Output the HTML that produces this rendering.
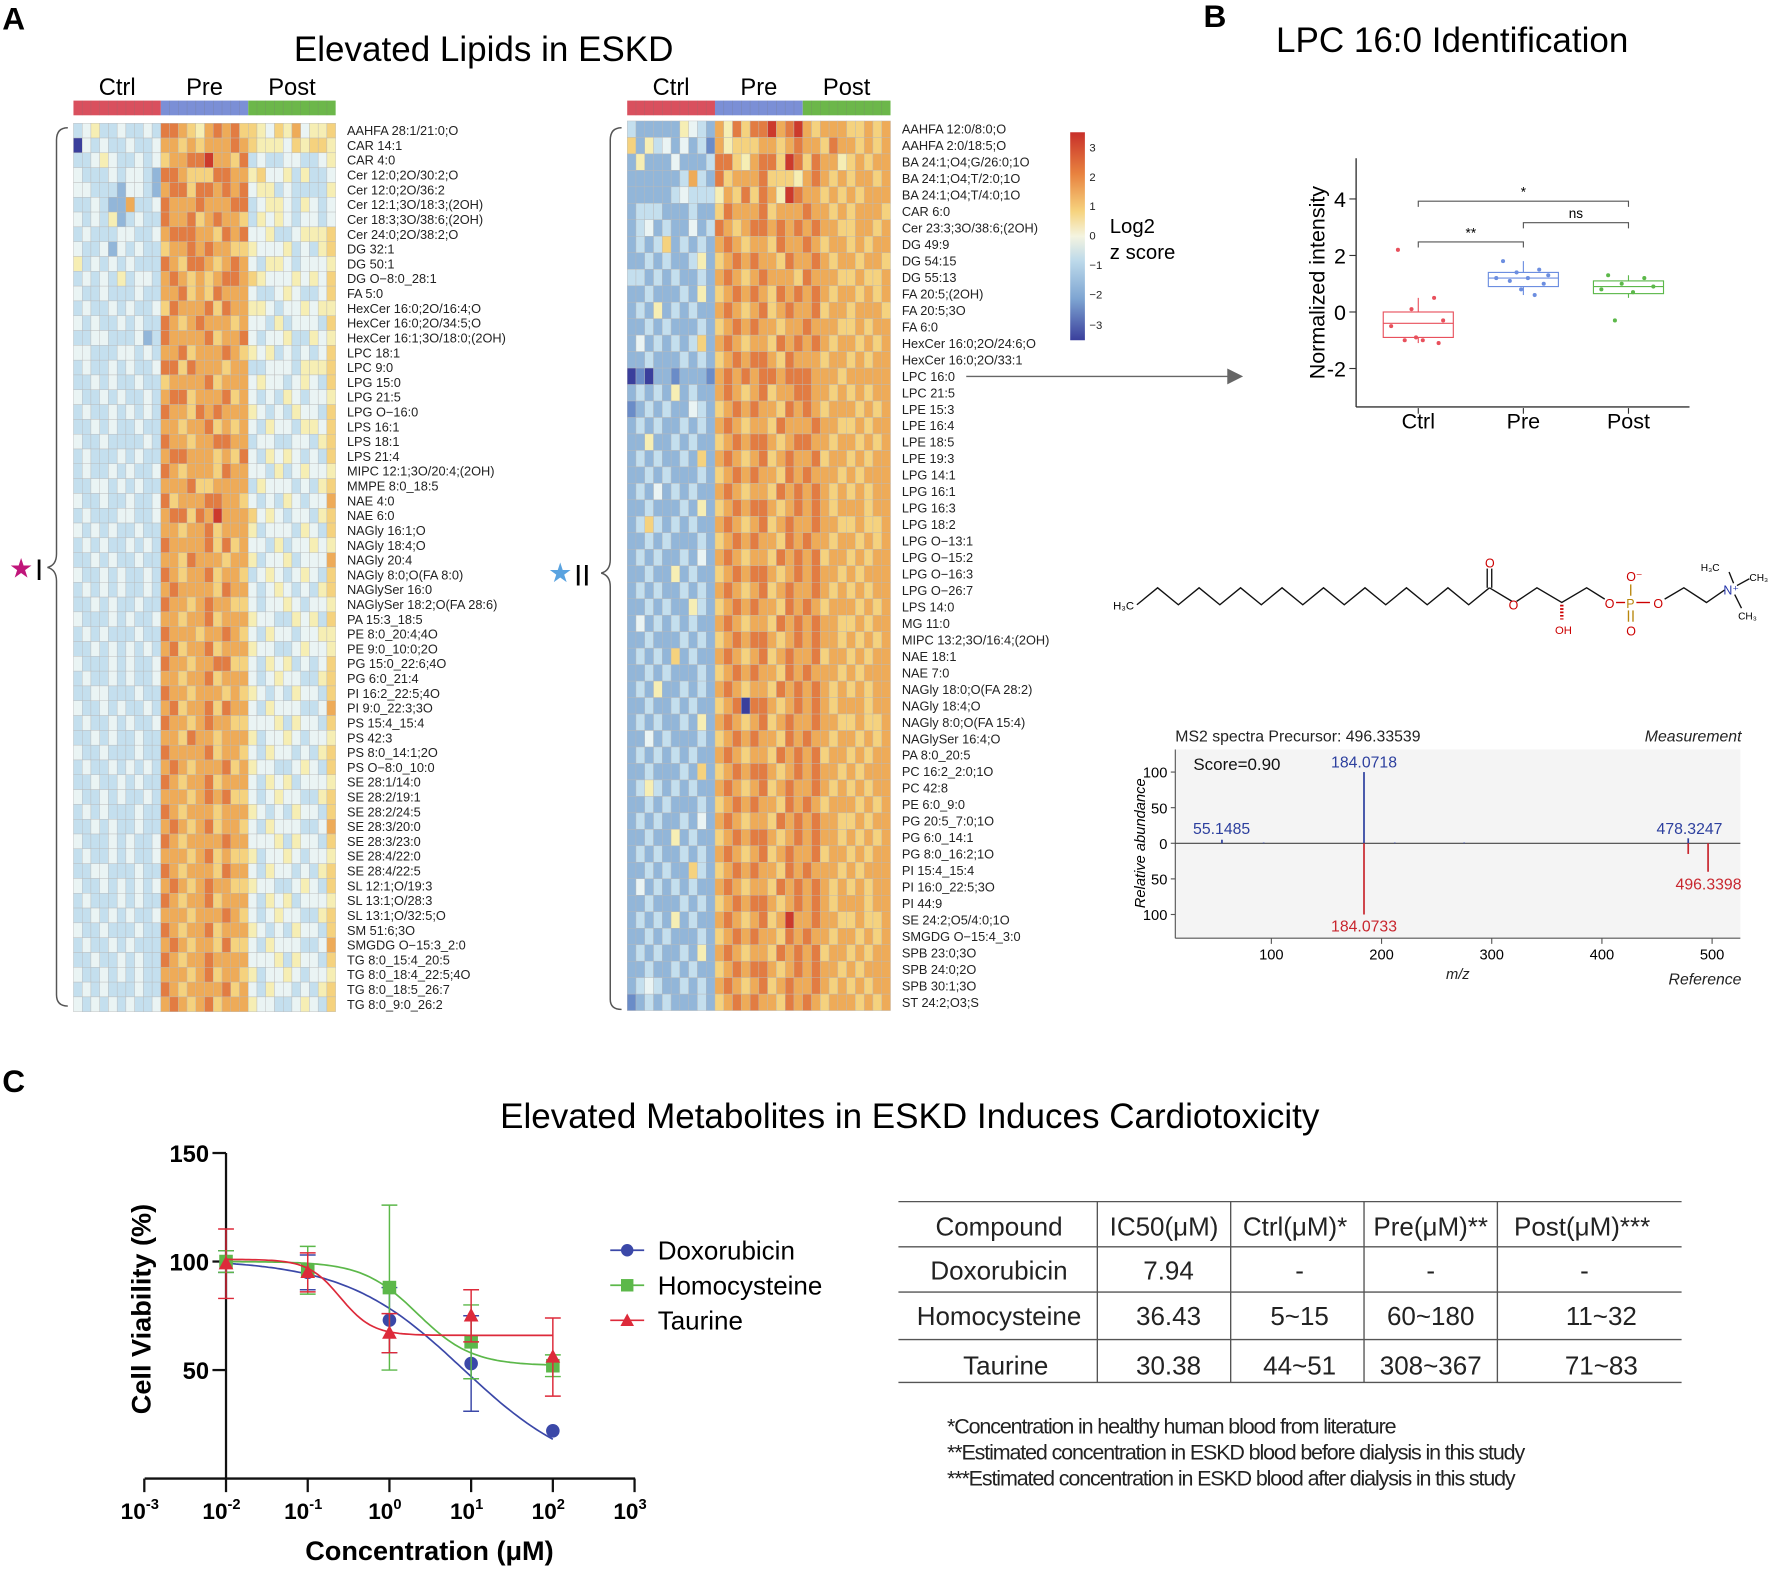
<!DOCTYPE html>
<html><head><meta charset="utf-8"><style>
html,body{margin:0;padding:0;background:#fff}
svg{display:block}
text{font-family:"Liberation Sans",sans-serif}
</style></head><body>
<svg id="fig" width="1772" height="1569" viewBox="0 0 1568 1388" preserveAspectRatio="none" xmlns="http://www.w3.org/2000/svg">
<rect width="1568" height="1388" fill="#fff"/>
<g id="static">
<text x="2" y="26" font-size="28" font-weight="bold">A</text>
<text x="1065" y="24" font-size="28" font-weight="bold">B</text>
<text x="2" y="966" font-size="28" font-weight="bold">C</text>
<text x="428" y="54" font-size="31" text-anchor="middle">Elevated Lipids in ESKD</text>
<text x="1285" y="46" font-size="31" text-anchor="middle">LPC 16:0 Identification</text>
<text x="805" y="998" font-size="31" text-anchor="middle">Elevated Metabolites in ESKD Induces Cardiotoxicity</text>
<path d="M60,113 Q50,113 50,124 L50,490 Q50,500 42,502 Q50,504 50,514 L50,880 Q50,890 60,890" fill="none" stroke="#555" stroke-width="1.3"/>
<path d="M550,113 Q540,113 540,124 L540,495 Q540,505 532,507 Q540,509 540,519 L540,884 Q540,893 550,893" fill="none" stroke="#555" stroke-width="1.3"/>
<text x="8" y="511" font-size="24" fill="#c0157a">★</text>
<text x="31" y="513" font-size="26">I</text>
<text x="485" y="515" font-size="24" fill="#5aa3e0">★</text>
<text x="508" y="518" font-size="26">II</text>
<line x1="855" y1="333" x2="1090" y2="333" stroke="#666" stroke-width="1.3"/>
<polygon points="1100,333 1086,326 1086,340" fill="#666"/>
<defs><linearGradient id="cg" x1="0" y1="0" x2="0" y2="1">
<stop offset="0" stop-color="#c8302a"/><stop offset="0.2" stop-color="#e8823f"/><stop offset="0.38" stop-color="#f6d37e"/><stop offset="0.5" stop-color="#f4f4e0"/><stop offset="0.62" stop-color="#bcd9ea"/><stop offset="0.8" stop-color="#7ea5d2"/><stop offset="1" stop-color="#3a3f9c"/></linearGradient></defs>
<rect x="947" y="117" width="13" height="184" fill="url(#cg)"/>
<g font-size="10" fill="#222">
<text x="964" y="134">3</text><text x="964" y="160">2</text><text x="964" y="186">1</text><text x="964" y="212">0</text><text x="964" y="238">−1</text><text x="964" y="264">−2</text><text x="964" y="291">−3</text></g>
<text x="982" y="206" font-size="18">Log2</text>
<text x="982" y="229" font-size="18">z score</text>
<g stroke-width="1.2" fill="none">
<polyline id="chain" stroke="#111"/>
<polyline points="1318,520 1338,532" stroke="#111"/>
<line x1="1316" y1="520" x2="1316" y2="503" stroke="#111"/><line x1="1320" y1="520" x2="1320" y2="503" stroke="#111"/>
<polyline points="1342,532 1360,520 1382,533 1404,520 1420,530" stroke="#111"/>
<line x1="1382" y1="535" x2="1382" y2="548" stroke="#c00" stroke-dasharray="1.5,1.5" stroke-width="3"/>
<line x1="1430" y1="533" x2="1438" y2="533" stroke="#c00"/><line x1="1448" y1="533" x2="1460" y2="533" stroke="#c00"/>
<line x1="1443" y1="517" x2="1443" y2="527" stroke="#b8860b"/><line x1="1441" y1="540" x2="1441" y2="550" stroke="#b8860b"/><line x1="1445" y1="540" x2="1445" y2="550" stroke="#b8860b"/>
<polyline points="1473,530 1490,520 1510,533 1526,522" stroke="#111"/>
<line x1="1534" y1="516" x2="1530" y2="506" stroke="#111"/><line x1="1537" y1="518" x2="1548" y2="512" stroke="#111"/><line x1="1535" y1="526" x2="1541" y2="538" stroke="#111"/>
</g>
<g font-size="11">
<text x="985" y="539" font-size="10">H₃C</text>
<text x="1314" y="502" fill="#c00">O</text>
<text x="1335" y="539" fill="#c00">O</text>
<text x="1376" y="561" fill="#c00" font-size="10">OH</text>
<text x="1420" y="538" fill="#c00">O</text>
<text x="1439" y="538" fill="#b8860b">P</text>
<text x="1439" y="514" fill="#c00">O⁻</text>
<text x="1439" y="562" fill="#c00">O</text>
<text x="1463" y="538" fill="#c00">O</text>
<text x="1525" y="526" fill="#2233aa">N⁺</text>
<text x="1505" y="505" font-size="9">H₃C</text>
<text x="1548" y="514" font-size="9">CH₃</text>
<text x="1538" y="548" font-size="9">CH₃</text>
</g>
<g stroke="#555" stroke-width="1.2">
<line x1="795" y1="1063" x2="1488" y2="1063"/><line x1="795" y1="1103" x2="1488" y2="1103"/><line x1="795" y1="1143" x2="1488" y2="1143"/><line x1="795" y1="1185" x2="1488" y2="1185"/><line x1="795" y1="1223" x2="1488" y2="1223"/>
<line x1="971" y1="1063" x2="971" y2="1223"/><line x1="1089" y1="1063" x2="1089" y2="1223"/><line x1="1207" y1="1063" x2="1207" y2="1223"/><line x1="1325" y1="1063" x2="1325" y2="1223"/>
</g>
<g font-size="23" text-anchor="middle" fill="#222">
<text x="884" y="1093">Compound</text><text x="1030" y="1093">IC50(μM)</text><text x="1146" y="1093">Ctrl(μM)*</text><text x="1266" y="1093">Pre(μM)**</text><text x="1400" y="1093">Post(μM)***</text>
<text x="884" y="1132">Doxorubicin</text><text x="1034" y="1132">7.94</text><text x="1150" y="1132">-</text><text x="1266" y="1132">-</text><text x="1402" y="1132">-</text>
<text x="884" y="1172">Homocysteine</text><text x="1034" y="1172">36.43</text><text x="1150" y="1172">5~15</text><text x="1266" y="1172">60~180</text><text x="1417" y="1172">11~32</text>
<text x="890" y="1216">Taurine</text><text x="1034" y="1216">30.38</text><text x="1150" y="1216">44~51</text><text x="1266" y="1216">308~367</text><text x="1417" y="1216">71~83</text>
</g>
<g font-size="19" fill="#222" letter-spacing="-1">
<text x="838" y="1268">*Concentration in healthy human blood from literature</text>
<text x="838" y="1291">**Estimated concentration  in ESKD blood before dialysis in this study</text>
<text x="838" y="1314">***Estimated concentration  in ESKD blood after dialysis in this study</text>
</g>
</g>
<g id="heat"></g>
<g id="box"></g>
<g id="ms"></g>
<g id="dose"></g>
</svg>
<script>
const NS="http://www.w3.org/2000/svg";
function mk(parent,tag,attrs,txt){const e=document.createElementNS(NS,tag);for(const k in attrs)e.setAttribute(k,attrs[k]);if(txt!==undefined)e.textContent=txt;parent.appendChild(e);return e;}

const heat1Labels=["AAHFA 28:1/21:0;O","CAR 14:1","CAR 4:0","Cer 12:0;2O/30:2;O","Cer 12:0;2O/36:2","Cer 12:1;3O/18:3;(2OH)","Cer 18:3;3O/38:6;(2OH)","Cer 24:0;2O/38:2;O","DG 32:1","DG 50:1","DG O−8:0_28:1","FA 5:0","HexCer 16:0;2O/16:4;O","HexCer 16:0;2O/34:5;O","HexCer 16:1;3O/18:0;(2OH)","LPC 18:1","LPC 9:0","LPG 15:0","LPG 21:5","LPG O−16:0","LPS 16:1","LPS 18:1","LPS 21:4","MIPC 12:1;3O/20:4;(2OH)","MMPE 8:0_18:5","NAE 4:0","NAE 6:0","NAGly 16:1;O","NAGly 18:4;O","NAGly 20:4","NAGly 8:0;O(FA 8:0)","NAGlySer 16:0","NAGlySer 18:2;O(FA 28:6)","PA 15:3_18:5","PE 8:0_20:4;4O","PE 9:0_10:0;2O","PG 15:0_22:6;4O","PG 6:0_21:4","PI 16:2_22:5;4O","PI 9:0_22:3;3O","PS 15:4_15:4","PS 42:3","PS 8:0_14:1;2O","PS O−8:0_10:0","SE 28:1/14:0","SE 28:2/19:1","SE 28:2/24:5","SE 28:3/20:0","SE 28:3/23:0","SE 28:4/22:0","SE 28:4/22:5","SL 12:1;O/19:3","SL 13:1;O/28:3","SL 13:1;O/32:5;O","SM 51:6;3O","SMGDG O−15:3_2:0","TG 8:0_15:4_20:5","TG 8:0_18:4_22:5;4O","TG 8:0_18:5_26:7","TG 8:0_9:0_26:2"];
const heat1Values=[
"3453343343 8876578786 6546574556","0434334334 7767677787 6555465665","3345433434 6778897768 3433443345","4333434432 8876668877 5644535334",
"4433324432 7886887878 4553433335","3343227334 8777877788 3455435434","4343523433 8778678776 3545434434","3433344334 7888776878 4453345556",
"4334243433 6778787766 5444534356","5343434333 8768876787 4355434445","3434353443 7876767887 6544454546","4334333433 7786768777 4334543346",
"3433434334 6877786877 5543445455","4343343433 8767877767 4435344436","3344333423 8777786778 4344533545","4433344343 7786777876 5453434346",
"3433434334 8868777677 3344435556","3343433433 6777786777 4544345436","4334343343 7886777867 4343543445","3433434343 8776878777 5434354436",
"3343433433 7767786767 4354435546","4334333343 8776778877 3443344356","3433343433 7887776768 4354543436","3433434334 8767776877 4435345445",
"3344343433 7778667777 3544434356","4334334334 8677788776 4343543447","3433344334 7886879777 6454344356","4343433433 7767786777 5344435436",
"3434334343 8777786867 4435344545","3343433433 7768777677 5344534447","4334343343 8767786776 3454345436","3434343343 7877776877 4345434356",
"3343433433 8776787766 4344543445","4333434334 7767786777 5443354536","3434333433 8777677876 4354434455","3343434343 7867786777 5443345445",
"4333434334 8776778866 4354534346","3433434334 7767786777 4345443356","3344333433 8776777676 5434354436","4334343343 7867786877 4354443347",
"3433434334 8776787766 4445354436","3343433433 7768776777 5344543445","4334333433 8777786776 4354434356","3433434343 7876777867 5443345436",
"3343343433 8767786777 4354534445","4334343343 7776787866 4345443356","3434333433 8767776777 5434354436","3343433433 7876786776 4354443347",
"4333434334 8767777877 4445354436","3433434334 7776786766 5344543445","3344333433 8767776877 4354434356","4334343434 7876787766 5443345436",
"3433343433 8767786777 4354534445","3343434334 7776777876 4345443356","4334333433 8767786777 5434354436","3433434333 7876776866 4354443347",
"3343343433 8767787777 4445354436","4334343433 7776786776 5344543445","3434333433 8767777867 4354434356","4343434334 7876786777 5443345436"];
const heat2Labels=["AAHFA 12:0/8:0;O","AAHFA 2:0/18:5;O","BA 24:1;O4;G/26:0;1O","BA 24:1;O4;T/2:0;1O","BA 24:1;O4;T/4:0;1O","CAR 6:0","Cer 23:3;3O/38:6;(2OH)","DG 49:9","DG 54:15","DG 55:13","FA 20:5;(2OH)","FA 20:5;3O","FA 6:0","HexCer 16:0;2O/24:6;O","HexCer 16:0;2O/33:1","LPC 16:0","LPC 21:5","LPE 15:3","LPE 16:4","LPE 18:5","LPE 19:3","LPG 14:1","LPG 16:1","LPG 16:3","LPG 18:2","LPG O−13:1","LPG O−15:2","LPG O−16:3","LPG O−26:7","LPS 14:0","MG 11:0","MIPC 13:2;3O/16:4;(2OH)","NAE 18:1","NAE 7:0","NAGly 18:0;O(FA 28:2)","NAGly 18:4;O","NAGly 8:0;O(FA 15:4)","NAGlySer 16:4;O","PA 8:0_20:5","PC 16:2_2:0;1O","PC 42:8","PE 6:0_9:0","PG 20:5_7:0;1O","PG 6:0_14:1","PG 8:0_16:2;1O","PI 15:4_15:4","PI 16:0_22:5;3O","PI 44:9","SE 24:2;O5/4:0;1O","SMGDG O−15:4_3:0","SPB 23:0;3O","SPB 24:0;2O","SPB 30:1;3O","ST 24:2;O3;S"];
const heat2Values=[
"3222225432 7586889789 7677766767","6253424231 7566677678 7768776767","2522242223 8865788698 6877567677","2222223732 8677786665 7876767767",
"2222234333 5768687598 7767676777","2333222322 6877786777 8776767776","2342322423 8767887878 7877667767","2323623232 7876776877 8767767677",
"2232322352 6787877687 7876776776","3323232232 7876787776 8777667667","2232223252 6787876878 7876776767","2325232322 7876786787 7867767776",
"2232322232 6787877677 8777667677","2423232362 7876776878 7876776767","2232223232 6787887687 7767767677","0102212221 7878788788 8777677777",
"2323252322 7876786778 8776767677","1232322432 6787877687 8767776767","2323223232 7876776877 7877667677","2252232322 6787887678 8776776767",
"2323223262 7876786787 7867767677","2232322232 6787877687 8777676777","2324232322 7876776878 7876767677","2232223252 6787887678 7876777677",
"2363232322 7876786787 7877667667","2232322232 6787877687 8776776767","2323223242 7876776878 7867767677","2232252322 6787887678 7877676777",
"2323223232 7876786787 7876767677","2232322532 6787877687 8767776767","2423232322 7876776878 7877667677","2232223232 6787887678 7877676767",
"2323262322 7876786787 7867767677","2232322232 6787877687 8777676777","2325223232 7876776878 7876767677","2232232322 6780887678 7876777677",
"2323223252 7876786787 7877667667","2242322232 6787877687 8776776767","2323232322 7876776878 7867767677","2232223262 6787887678 7877676777",
"2353232322 7876786787 7876767677","2232322232 6787877687 8767776767","2323223242 7876776878 7877667677","2232252322 6787887678 7877676767",
"2323223232 7876786787 7867767677","2232322632 6787877687 8777676777","2423232322 7876776878 7876767677","2232223232 6787887678 7876777677",
"2323252322 7876786797 7877667667","2232322232 6787877687 8776776767","2323223252 7876776878 7867767677","2232232322 6787887678 7877676777",
"2343223232 7876786787 7876767677","1232322232 6787877687 8767776767"];
const groupLabels=["Ctrl","Pre","Post"];
const groupColors=["#d9505e","#7b8fd6","#6cb74a"];
const levelColors=["#3a3f9c","#6a8cc8","#92b6d9","#c4dfee","#eaf4f4","#f6eeb4","#f5d27e","#eeab58","#e27c42","#cc3a2c"];

function drawHeat(x0,w,y0,h,labels,values,name){
  const g=document.getElementById('heat');
  const ncol=30,cw=w/ncol,rh=h/labels.length;
  for(let gi=0;gi<3;gi++){
    const b=mk(g,'rect',{x:x0+gi*10*cw,y:89,width:10*cw,height:13,fill:groupColors[gi]});
    
    
    const t=mk(g,'text',{x:x0+gi*10*cw+5*cw,y:84,'font-size':21,'text-anchor':'middle'},groupLabels[gi]);
    
    
    for(let c=1;c<10;c++) mk(g,'line',{x1:x0+(gi*10+c)*cw,y1:89,x2:x0+(gi*10+c)*cw,y2:102,stroke:'rgba(120,120,120,0.35)','stroke-width':0.5});
  }
  for(let r=0;r<labels.length;r++){
    const s=values[r].replace(/ /g,'');
    for(let c=0;c<ncol;c++){
      const lv=parseInt(s[c]||'5');
      const cell=mk(g,'rect',{x:x0+c*cw,y:y0+r*rh,width:cw,height:rh,fill:levelColors[lv],stroke:'#b8b8b8','stroke-width':0.35});
      
      
    }
    const t=mk(g,'text',{x:x0+w+10,y:y0+r*rh+rh/2+4,'font-size':11.3,fill:'#222'},labels[r]);
    
    
  }
}
drawHeat(65,232,109,786,heat1Labels,heat1Values,'heatmap-i');
drawHeat(555,233,107,787,heat2Labels,heat2Values,'heatmap-ii');

(function(){const p=[];for(let i=0;i<=17;i++){p.push((1006+i*18.35)+','+(i%2?520:535));}document.getElementById('chain').setAttribute('points',p.join(' '));})();

const boxCats=["Ctrl","Pre","Post"];
const boxColors=["#e8505c","#6c8ee0","#5cb84a"];
const boxStats=[[-1.1,-0.9,-0.4,0.0,0.5],[0.6,0.9,1.2,1.4,1.8],[0.5,0.65,0.9,1.1,1.3]];
const boxPoints=[[2.2,0.5,0.1,-0.3,-0.5,-1.0,-1.0,-1.1,-0.9],[1.8,1.5,1.4,1.3,1.2,1.2,1.1,1.0,0.8,0.6],[1.3,1.2,1.0,0.9,0.8,0.7,-0.3]];
const boxTicks=[4,2,0,-2];
(function(){
  const g=document.getElementById('box');
  const yv=v=>276-25*v, xc=i=>1255+i*93;
  let e=mk(g,'line',{x1:1200,y1:140,x2:1200,y2:360,stroke:'#333','stroke-width':1.2});
  
  e=mk(g,'line',{x1:1200,y1:360,x2:1495,y2:360,stroke:'#333','stroke-width':1.2});
  
  boxTicks.forEach(v=>{mk(g,'line',{x1:1194,y1:yv(v),x2:1200,y2:yv(v),stroke:'#333'});
    const t=mk(g,'text',{x:1191,y:yv(v)+7,'font-size':19,'text-anchor':'end'},String(v));
    });
  const yt=mk(g,'text',{x:1172,y:250,'font-size':19,'text-anchor':'middle',transform:'rotate(-90 1172 250)'},'Normalized intensity');
  
  const jit=[-18,14,-6,22,-24,4,-12,18,-2,10];
  boxCats.forEach((c,i)=>{
    const x=xc(i),s=boxStats[i],col=boxColors[i];
    mk(g,'line',{x1:x,y1:361,x2:x,y2:366,stroke:'#333'});
    const t=mk(g,'text',{x:x,y:379,'font-size':19,'text-anchor':'middle'},c);
    
    const b=mk(g,'rect',{x:x-31,y:yv(s[3]),width:62,height:yv(s[1])-yv(s[3]),fill:'none',stroke:col,'stroke-width':1});
    
    mk(g,'line',{x1:x-31,y1:yv(s[2]),x2:x+31,y2:yv(s[2]),stroke:col});
    mk(g,'line',{x1:x,y1:yv(s[3]),x2:x,y2:yv(s[4]),stroke:col});
    mk(g,'line',{x1:x,y1:yv(s[1]),x2:x,y2:yv(s[0]),stroke:col});
    boxPoints[i].forEach((v,k)=>{const p=mk(g,'circle',{cx:x+jit[k],cy:yv(v),r:1.8,fill:col});
      });
  });
  const br=[[0,1,214,'**'],[1,2,197,'ns'],[0,2,178,'*']];
  br.forEach(b=>{mk(g,'polyline',{points:`${xc(b[0])},${b[2]+5} ${xc(b[0])},${b[2]} ${xc(b[1])},${b[2]} ${xc(b[1])},${b[2]+5}`,fill:'none',stroke:'#555'});
    const t=mk(g,'text',{x:(xc(b[0])+xc(b[1]))/2,y:b[2]-4,'font-size':12,'text-anchor':'middle'},b[3]);
    });
})();

const msTopMz=[55.1485,93,184.0718,212,275,478.3247];
const msTopInt=[5,1,100,1,1,7];
const msBotMz=[184.0733,478.3247,496.3398];
const msBotInt=[100,15,40];
const msXTicks=[100,200,300,400,500];
const msYTicks=[100,50,0,-50,-100];
(function(){
  const g=document.getElementById('ms');
  const X=m=>1027.5+0.975*m, Y=v=>746-0.63*v;
  let e=mk(g,'rect',{x:1040,y:663,width:500,height:167,fill:'#f4f4f4'});
  
  mk(g,'line',{x1:1040,y1:663,x2:1040,y2:830,stroke:'#555'});
  mk(g,'line',{x1:1040,y1:830,x2:1540,y2:830,stroke:'#555'});
  mk(g,'line',{x1:1040,y1:746,x2:1540,y2:746,stroke:'#444'});
  msYTicks.forEach(v=>{mk(g,'line',{x1:1036,y1:Y(v),x2:1040,y2:Y(v),stroke:'#555'});
    const t=mk(g,'text',{x:1033,y:Y(v)+5,'font-size':13,'text-anchor':'end'},String(Math.abs(v)));
    });
  msXTicks.forEach(v=>{mk(g,'line',{x1:X(v),y1:830,x2:X(v),y2:835,stroke:'#555'});
    const t=mk(g,'text',{x:X(v),y:849,'font-size':13,'text-anchor':'middle'},String(v));
    });
  msTopMz.forEach((m,i)=>{const l=mk(g,'line',{x1:X(m),y1:746,x2:X(m),y2:Y(msTopInt[i]),stroke:'#2c3f9e','stroke-width':1.5});
    });
  msBotMz.forEach((m,i)=>{const l=mk(g,'line',{x1:X(m),y1:746,x2:X(m),y2:Y(-msBotInt[i]),stroke:'#c8262e','stroke-width':1.5});
    });
  const txt=[[1040,656,'MS2 spectra Precursor: 496.33539','#222',14,'start',''],[1541,656,'Measurement','#222',14,'end','italic'],
    [1056,681,'Score=0.90','#111',15,'start',''],[1207,679,'184.0718','#2c3f9e',14,'middle',''],[1081,738,'55.1485','#2c3f9e',14,'middle',''],
    [1495,738,'478.3247','#2c3f9e',14,'middle',''],[1207,824,'184.0733','#c8262e',14,'middle',''],[1541,787,'496.3398','#c8262e',14,'end',''],
    [1290,866,'m/z','#222',13,'middle','italic'],[1541,871,'Reference','#222',14,'end','italic']];
  txt.forEach(a=>{const t=mk(g,'text',{x:a[0],y:a[1],fill:a[3],'font-size':a[4],'text-anchor':a[5],'font-style':a[6]||'normal'},a[2]);
    });
  const yt=mk(g,'text',{x:1013,y:746,'font-size':13,'font-style':'italic','text-anchor':'middle',transform:'rotate(-90 1013 746)'},'Relative abundance');
  
})();

const doseConc=[0.01,0.1,1,10,100];
const doxMean=[100,95,73,53,22];
const doxErr=[5,8,15,22,0];
const homMean=[100,96,88,63,52];
const homErr=[5,11,38,17,5];
const taurMean=[99,95,67,75,56];
const taurErr=[16,9,9,12,18];
const doseYTicks=[150,100,50];
const doseXExp=[-3,-2,-1,0,1,2,3];
const fitParams=[[101,0,7.94,0.6],[100,52,2.2,1.3],[101,66,0.25,2.2]];
(function(){
  const g=document.getElementById('dose');
  const X=c=>200+72.3*(Math.log10(c)+2), Y=v=>1116-1.92*(v-100);
  let e=mk(g,'line',{x1:200,y1:1020,x2:200,y2:1308,stroke:'#111','stroke-width':2});
  
  e=mk(g,'line',{x1:128,y1:1308,x2:562,y2:1308,stroke:'#111','stroke-width':2});
  
  doseYTicks.forEach(v=>{mk(g,'line',{x1:188,y1:Y(v),x2:200,y2:Y(v),stroke:'#111','stroke-width':2});
    const t=mk(g,'text',{x:185,y:Y(v)+8,'font-size':21,'font-weight':'bold','text-anchor':'end'},String(v));
    });
  doseXExp.forEach(p=>{const x=X(Math.pow(10,p));mk(g,'line',{x1:x,y1:1308,x2:x,y2:1320,stroke:'#111','stroke-width':2});
    const t=mk(g,'text',{x:x-4,y:1344,'font-size':20,'font-weight':'bold','text-anchor':'middle'});
    mk(t,'tspan',{},'10');mk(t,'tspan',{dy:-9,'font-size':13},String(p));
    });
  let t=mk(g,'text',{x:380,y:1380,'font-size':24,'font-weight':'bold','text-anchor':'middle'},'Concentration (μM)');
  
  t=mk(g,'text',{x:133,y:1158,'font-size':24,'font-weight':'bold','text-anchor':'middle',transform:'rotate(-90 133 1158)'},'Cell Viability (%)');
  
  const series=[['doxorubicin','Doxorubicin',doxMean,doxErr,'#3b48a8','circle'],['homocysteine','Homocysteine',homMean,homErr,'#5cb84a','square'],['taurine','Taurine',taurMean,taurErr,'#dd2a3a','triangle']];
  series.forEach((s,si)=>{
    const col=s[4],fp=fitParams[si];
    const pts=[];for(let k=0;k<=100;k++){const lc=-2+4*k/100,c=Math.pow(10,lc);const v=fp[1]+(fp[0]-fp[1])/(1+Math.pow(c/fp[2],fp[3]));pts.push(X(c).toFixed(1)+','+Y(v).toFixed(1));}
    const fl=mk(g,'polyline',{points:pts.join(' '),fill:'none',stroke:col,'stroke-width':1.5});
    
    doseConc.forEach((c,i)=>{
      const x=X(c),m=s[2][i],er=s[3][i];
      if(er>0){const eb=mk(g,'path',{d:`M${x},${Y(m+er)}V${Y(m-er)}M${x-7},${Y(m+er)}h14M${x-7},${Y(m-er)}h14`,stroke:col,'stroke-width':1.3,fill:'none'});
        }
      let mkr;
      if(s[5]=='circle')mkr=mk(g,'circle',{cx:x,cy:Y(m),r:6,fill:col});
      else if(s[5]=='square')mkr=mk(g,'rect',{x:x-6,y:Y(m)-6,width:12,height:12,fill:col});
      else mkr=mk(g,'polygon',{points:`${x},${Y(m)-7} ${x-6.5},${Y(m)+5} ${x+6.5},${Y(m)+5}`,fill:col});
      
    });
    const ly=1106+si*31;
    mk(g,'line',{x1:540,y1:ly,x2:570,y2:ly,stroke:col,'stroke-width':1.5});
    let lm;
    if(s[5]=='circle')lm=mk(g,'circle',{cx:555,cy:ly,r:5.5,fill:col});
    else if(s[5]=='square')lm=mk(g,'rect',{x:549.5,y:ly-5.5,width:11,height:11,fill:col});
    else lm=mk(g,'polygon',{points:`555,${ly-6} 549,${ly+5} 561,${ly+5}`,fill:col});
    
    const lt=mk(g,'text',{x:582,y:ly+8,'font-size':23},s[1]);
    
  });
})();
</script>
</body></html>
